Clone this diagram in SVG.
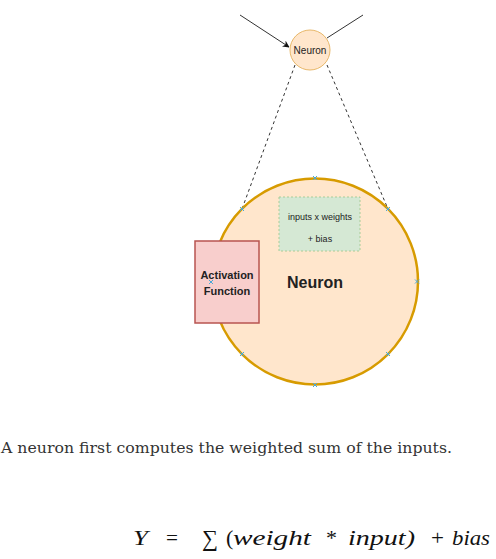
<svg xmlns="http://www.w3.org/2000/svg" width="496" height="559" viewBox="0 0 496 559">
<style>
.lbl{font-family:"Liberation Sans",Arial,sans-serif;fill:#222}
.cx{stroke:#4aa8d8;stroke-width:1}
.dash{fill:none;stroke:#333;stroke-width:1;stroke-dasharray:3,3}
.math{font-family:"Liberation Serif","Times New Roman",serif;font-size:22px;fill:#111}
</style>
<defs>
<marker id="ah" viewBox="0 0 10 10" refX="9" refY="5" markerWidth="7" markerHeight="7" orient="auto-start-reverse" markerUnits="userSpaceOnUse">
<path d="M0,0 L10,5 L0,10 L3,5 Z" fill="#111"/>
</marker>
</defs>
<rect width="496" height="559" fill="#fff"/>
<g id="connectors">
<line x1="240" y1="15" x2="289" y2="47" stroke="#333" stroke-width="1" marker-end="url(#ah)"/>
<line x1="363" y1="15" x2="327" y2="38" stroke="#333" stroke-width="1"/>
<line class="dash" x1="295" y1="65" x2="242" y2="209"/>
<line class="dash" x1="327" y1="65" x2="388" y2="209"/>
<path class="dash" d="M279,223 L243,223 L243,239" marker-end="url(#ah)"/>
</g>
<g id="neuron-big">
<circle cx="315" cy="281.5" r="103" fill="#ffe6cc" stroke="#d79b00" stroke-width="2.5"/>
<text class="lbl" x="315" y="288" text-anchor="middle" font-size="16" font-weight="bold" fill="#000">Neuron</text>
</g>
<g id="weighted-sum">
<rect x="279" y="197" width="81" height="54" fill="#d5e8d4" stroke="#a8cc98" stroke-width="1" stroke-dasharray="2,2"/>
<text class="lbl" x="320" y="220" text-anchor="middle" font-size="9">inputs x weights</text>
<text class="lbl" x="320" y="242" text-anchor="middle" font-size="9">+ bias</text>
</g>
<g id="activation">
<rect x="195" y="241" width="64" height="82" fill="#f8cecc" stroke="#b85450" stroke-width="1.5"/>
<text class="lbl" x="227" y="279" text-anchor="middle" font-size="11" font-weight="bold" fill="#333">Activation</text>
<text class="lbl" x="227" y="295" text-anchor="middle" font-size="11" font-weight="bold" fill="#333">Function</text>
</g>
<g id="markers">
<path class="cx" d="M313,176l4,4m0,-4l-4,4 M415,279.5l4,4m0,-4l-4,4 M313,383l4,4m0,-4l-4,4 M240,207l4,4m0,-4l-4,4 M386,207l4,4m0,-4l-4,4 M240,352l4,4m0,-4l-4,4 M386,352l4,4m0,-4l-4,4 M209,280l4,4m0,-4l-4,4"/>
</g>
<g id="neuron-small">
<circle cx="310" cy="50" r="20" fill="#ffe6cc" stroke="#e8b86a" stroke-width="1"/>
<text class="lbl" x="310" y="54" text-anchor="middle" font-size="10">Neuron</text>
</g>
<text x="1" y="453" font-family="'DejaVu Serif',serif" font-size="15.5" fill="#333" textLength="451" lengthAdjust="spacingAndGlyphs">A neuron first computes the weighted sum of the inputs.</text>
<g class="math">
<text x="133" y="545" font-style="italic" textLength="15" lengthAdjust="spacingAndGlyphs">Y</text>
<text x="166" y="545" textLength="12" lengthAdjust="spacingAndGlyphs">=</text>
<text x="202" y="546" font-size="23" textLength="16" lengthAdjust="spacingAndGlyphs">∑</text>
<text x="226" y="545">(</text>
<text x="233" y="545" font-style="italic" textLength="78" lengthAdjust="spacingAndGlyphs">weight</text>
<text x="326" y="545">*</text>
<text x="348" y="545" font-style="italic" textLength="67" lengthAdjust="spacingAndGlyphs">input)</text>
<text x="431" y="545" textLength="13" lengthAdjust="spacingAndGlyphs">+</text>
<text x="452" y="545" font-style="italic" textLength="38" lengthAdjust="spacingAndGlyphs">bias</text>
</g>
</svg>
